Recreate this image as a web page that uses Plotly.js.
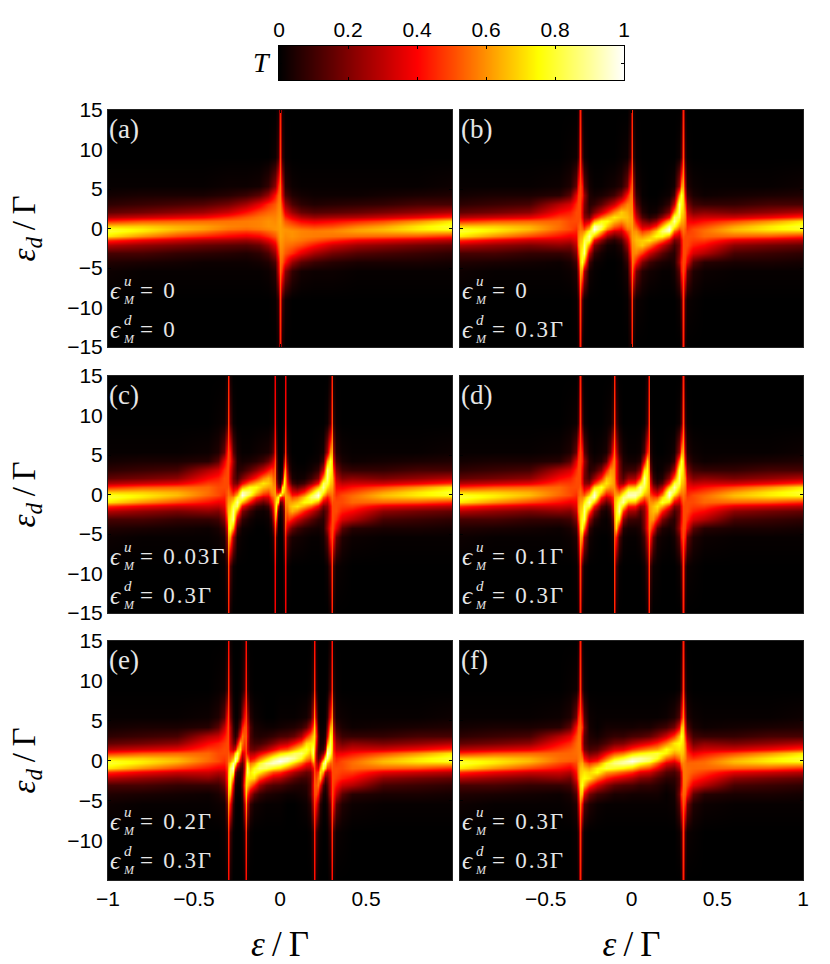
<!DOCTYPE html>
<html>
<head>
<meta charset="utf-8">
<script src="https://cdn.plot.ly/plotly-3.0.1.min.js"></script>
<style>html,body{margin:0;padding:0;background:#fff}</style>
</head>
<body>
<div id="plot" style="width:830px;height:964px"></div>
<script>
// energy levels of the rows, top of the panel first
let levels = [15,9,5.4,4.2,3.1,2.15,1.5,.9,.36,0,-.36,-.9,-1.5,-2.15,-3.1,-4.2,-5.4,-9,-15];

// every column below is T x 100, one value per level
// far left and far right of the band, the same in the panels (b)-(f)
let outerLX = [-1,-.8,-.6,-.42];
let outerL = [
  [0,0,1,3,7,15,28,46,68,78,80,72,46,28,11,5,2,0,0],
  [0,0,1,4,9,18,32,52,68,73,72,60,38,23,11,4,1,0,0],
  [0,0,1,4,11,22,36,54,64,66,62,50,32,19,8,3,1,0,0],
  [0,0,2,6,28,40,48,54,55,54,50,42,32,22,8,2,1,0,0]
];
let outerRX = [.42,.6,.8,1];
let outerR = [
  [0,0,1,2,8,22,32,42,50,54,55,54,48,40,28,6,2,0,0],
  [0,0,1,3,8,19,32,50,62,66,64,54,36,22,11,4,1,0,0],
  [0,0,1,4,11,23,38,60,72,73,68,52,32,18,9,4,1,0,0],
  [0,0,2,5,11,28,46,72,80,78,68,46,28,15,7,3,1,0,0]
];

// the line at -0.3 and +0.3 with its flare, panels (b)-(d)
let flareLX = [-.36,-.325,-.31,-.3];
let flareL = [
  [0,1,5,14,34,44,48,50,50,50,46,38,30,20,10,4,2,0,0],
  [0,2,16,36,46,50,50,50,48,46,44,40,36,30,20,10,5,1,0],
  [3,10,42,48,50,50,50,50,52,52,54,56,58,58,50,36,25,8,3],
  [45,48,50,50,50,50,50,52,55,56,58,62,65,68,70,70,64,50,45]
];
let flareRX = [.3,.31,.325,.36];
let flareR = [
  [45,50,64,70,70,68,65,62,58,56,55,52,50,50,50,50,50,48,45],
  [3,8,25,36,50,58,58,56,54,52,52,50,50,50,50,48,42,10,3],
  [0,1,5,10,20,30,36,40,44,46,48,50,50,50,46,36,16,2,0],
  [0,0,2,4,10,20,30,38,46,50,50,50,48,44,34,14,5,1,0]
];

// bright ridges in the outer gaps, panels (b) and (c)
let ridgeLX = [-.29,-.275,-.25,-.22,-.18,-.14,-.1];
let ridgeL = [
  [3,12,42,44,38,36,38,44,50,54,58,64,68,72,78,80,60,12,3],
  [0,2,14,24,20,18,22,30,42,50,60,72,82,88,88,62,26,2,0],
  [0,0,3,5,6,10,18,34,54,66,78,90,84,60,30,10,3,0,0],
  [0,0,1,3,8,20,38,62,92,98,90,66,40,20,8,2,1,0,0],
  [0,0,1,4,14,32,54,76,85,80,66,44,22,9,3,1,0,0,0],
  [0,0,2,6,22,44,64,76,68,58,44,24,10,3,1,0,0,0,0],
  [0,0,3,10,32,58,72,66,54,44,32,16,6,2,1,0,0,0,0]
];
let ridgeRX = [.1,.14,.18,.22,.25,.275,.29];
let ridgeR = [
  [0,0,0,0,1,2,6,16,32,44,54,66,72,58,32,10,3,0,0],
  [0,0,0,0,1,3,10,24,44,58,68,76,64,44,22,6,2,0,0],
  [0,0,0,1,3,9,22,44,66,80,85,76,54,32,14,4,1,0,0],
  [0,0,1,2,8,20,40,66,90,98,92,62,38,20,8,3,1,0,0],
  [0,0,3,10,30,60,84,90,78,66,54,34,18,10,6,5,3,0,0],
  [0,2,26,62,88,88,82,72,60,50,42,30,22,18,20,24,14,2,0],
  [3,12,60,80,78,72,68,64,58,54,50,44,38,36,38,44,42,12,3]
];

// panel (a)
let aMidX = [-.3,-.2,-.12,-.07,-.03,-.01,0,.01,.03,.07,.12,.2,.3];
let aMid = [
  [0,0,2,6,18,32,46,56,58,56,50,40,26,14,6,2,1,0,0],
  [0,0,2,9,26,42,52,57,57,54,48,37,24,13,5,2,1,0,0],
  [0,0,3,14,36,50,56,58,58,56,50,40,28,16,7,3,1,0,0],
  [0,0,8,24,46,54,58,60,60,58,54,46,36,24,12,5,2,0,0],
  [0,2,22,42,52,56,58,59,60,60,57,52,45,36,24,12,6,1,0],
  [3,10,45,53,57,59,60,61,61,61,60,58,56,52,45,34,30,8,3],
  [45,48,55,56,58,60,61,62,62,62,62,62,61,60,58,56,55,48,45],
  [3,8,30,34,45,52,56,58,60,61,61,61,60,59,57,53,45,10,3],
  [0,1,6,12,24,36,45,52,57,60,60,59,58,56,52,42,22,2,0],
  [0,0,2,5,12,24,36,46,54,58,60,60,58,54,46,24,8,0,0],
  [0,0,1,3,7,16,28,40,50,56,58,58,56,50,36,14,3,0,0],
  [0,0,1,2,5,13,24,37,48,54,57,57,52,42,26,9,2,0,0],
  [0,0,1,2,6,14,26,40,50,56,58,56,46,32,18,6,2,0,0]
];
let aOuterLX = [-1,-.8,-.6,-.45];
let aOuterL = [
  outerL[0], outerL[1], outerL[2],
  [0,0,1,4,13,25,39,55,62,62,57,45,28,16,7,2,1,0,0]
];
let aOuterRX = [.45,.6,.8,1];
let aOuterR = [
  [0,0,1,2,7,16,28,45,57,62,62,55,39,25,13,4,1,0,0],
  outerR[1], outerR[2], outerR[3]
];

// panel (b), the line at zero
let bMidX = [-.06,-.025,-.008,0,.008,.025,.06];
let bMid = [
  [0,1,6,20,48,68,68,60,48,40,32,22,12,6,3,1,1,0,0],
  [0,2,18,42,58,64,66,64,60,56,50,40,32,24,14,8,4,1,0],
  [3,10,44,54,58,60,62,62,60,58,56,54,50,46,40,30,26,8,3],
  [45,48,54,56,58,60,62,62,62,62,62,62,62,60,58,56,54,48,45],
  [3,8,26,30,40,46,50,54,56,58,60,62,62,60,58,54,44,10,3],
  [0,1,4,8,14,24,32,40,50,56,60,64,66,64,58,42,18,2,0],
  [0,0,1,1,3,6,12,22,32,40,48,60,68,68,48,20,6,1,0]
];

// panel (c), the close pair at +-0.03
let cMidX = [-.07,-.05,-.04,-.03,-.022,-.012,0,.012,.022,.03,.04,.05,.07];
let cMid = [
  [0,0,4,16,42,64,68,62,50,42,34,22,10,4,2,1,0,0,0],
  [0,1,8,24,48,60,64,62,58,54,48,38,26,16,8,4,2,0,0],
  [0,2,14,32,46,54,58,60,60,58,54,48,42,36,26,14,6,1,0],
  [38,40,44,50,54,56,58,60,62,62,62,64,66,66,62,52,46,40,38],
  [2,6,16,20,20,22,28,36,46,56,66,74,76,72,50,28,10,3,1],
  [0,0,1,3,5,8,12,20,40,62,78,72,36,14,5,2,1,0,0],
  [0,0,0,0,1,3,6,16,50,85,50,16,6,3,1,0,0,0,0],
  [0,0,1,2,5,14,36,72,78,62,40,20,12,8,5,3,1,0,0],
  [1,3,10,28,50,72,76,74,66,56,46,36,28,22,20,20,16,6,2],
  [38,40,46,52,62,66,66,64,62,62,62,60,58,56,54,50,44,40,38],
  [0,1,6,14,26,36,42,48,54,58,60,60,58,54,46,32,14,2,0],
  [0,0,2,4,8,16,26,38,48,54,58,62,64,60,48,24,8,1,0],
  [0,0,0,1,2,4,10,22,34,42,50,62,68,64,42,16,4,0,0]
];

// panel (d), lines at +-0.1
let dMidX = [-.29,-.275,-.25,-.22,-.18,-.15,-.125,-.11,-.1,-.09,-.075,-.05,-.02,.02,.05,.075,.09,.1,.11,.125,.15,.18,.22,.25,.275,.29];
let dMid = [
  [3,12,42,44,38,36,38,44,50,54,58,64,68,72,78,80,60,12,3],
  [0,2,14,24,20,18,22,32,44,52,62,74,84,88,84,58,24,2,0],
  [0,0,3,6,6,11,20,38,58,70,82,92,80,54,26,8,3,0,0],
  [0,0,1,3,9,24,44,70,90,96,94,68,42,22,8,2,1,0,0],
  [0,0,2,5,20,44,64,80,70,58,46,28,13,5,2,1,0,0,0],
  [0,1,4,14,44,66,72,66,50,40,30,16,7,3,1,1,0,0,0],
  [0,2,16,40,60,66,66,60,50,44,36,24,14,8,4,2,1,0,0],
  [3,10,42,54,60,62,62,60,54,50,46,42,36,30,18,10,5,1,0],
  [45,48,54,56,58,60,60,60,60,60,62,64,64,62,58,54,50,48,45],
  [3,10,30,40,40,40,44,50,58,62,66,70,72,74,76,70,42,10,3],
  [0,2,10,18,20,22,26,38,54,64,72,82,88,90,70,36,12,1,0],
  [0,0,3,5,8,13,24,46,68,80,88,90,72,48,22,6,2,0,0],
  [0,0,1,3,9,24,42,66,88,93,90,68,44,26,10,3,1,0,0],
  [0,0,1,3,10,26,44,68,90,93,88,66,42,24,9,3,1,0,0],
  [0,0,2,6,22,48,72,90,88,80,68,46,24,13,8,5,3,0,0],
  [0,1,12,36,70,90,88,82,72,64,54,38,26,22,20,18,10,2,0],
  [3,10,42,70,76,74,72,70,66,62,58,50,44,40,40,40,30,10,3],
  [45,48,50,54,58,62,64,64,62,60,60,60,60,60,58,56,54,48,45],
  [0,1,5,10,18,30,36,42,46,50,54,60,62,62,60,54,42,10,3],
  [0,0,1,2,4,8,14,24,36,44,50,60,66,66,60,40,16,2,0],
  [0,0,0,1,1,3,7,16,30,40,50,66,72,66,44,14,4,1,0],
  [0,0,0,1,2,5,13,28,46,58,70,80,64,44,20,5,2,0,0],
  [0,0,1,2,8,22,42,68,94,96,90,70,44,24,9,3,1,0,0],
  [0,0,3,8,26,54,80,92,82,70,58,38,20,11,6,6,3,0,0],
  [0,2,24,58,84,88,84,74,62,52,44,32,22,18,20,24,14,2,0],
  [3,12,60,80,78,72,68,64,58,54,50,44,38,36,38,44,42,12,3]
];

// panel (e), pairs at -0.3/-0.2 and 0.2/0.3
let eMidX = [-.36,-.325,-.31,-.3,-.29,-.275,-.26,-.25,-.235,-.22,-.21,-.2,-.19,-.175,-.15,-.12,-.08,-.04,0,.04,.08,.12,.15,.175,.19,.2,.21,.22,.235,.25,.26,.275,.29,.3,.31,.325,.36];
let eMid = [
  [0,1,5,14,32,44,48,50,50,50,46,38,28,18,9,4,2,0,0],
  [0,2,14,30,42,48,50,50,48,46,44,38,30,24,16,8,3,1,0],
  [3,10,40,46,48,50,50,50,50,50,50,48,46,44,38,28,18,6,2],
  [42,46,50,50,50,50,50,52,54,56,60,64,68,70,70,68,60,46,42],
  [2,8,18,28,30,32,36,46,54,60,70,84,86,84,78,62,40,10,3],
  [0,1,4,8,12,18,28,48,64,76,90,96,84,58,34,20,8,1,0],
  [0,0,1,3,6,14,34,70,90,92,80,46,22,10,5,2,1,0,0],
  [0,0,1,4,12,36,62,84,84,70,46,20,8,4,2,1,0,0,0],
  [0,1,6,18,40,66,72,62,44,32,20,10,5,3,2,1,0,0,0],
  [1,4,22,42,56,56,48,34,24,20,14,10,10,12,14,8,4,1,0],
  [3,10,38,50,52,48,44,38,34,30,28,28,32,40,46,40,24,6,2],
  [42,44,48,50,52,52,50,50,54,58,62,66,70,72,72,68,60,46,42],
  [3,8,28,36,38,34,34,40,56,66,74,84,84,74,68,50,30,8,3],
  [0,1,6,12,12,14,18,28,38,46,56,66,72,72,56,28,8,1,0],
  [0,0,2,4,6,10,16,28,42,52,62,76,80,70,44,14,3,0,0],
  [0,0,1,3,5,10,20,36,54,66,78,86,74,52,26,8,2,0,0],
  [0,0,0,2,6,14,27,46,68,80,90,84,62,40,16,5,1,0,0],
  [0,0,0,2,8,20,36,58,82,92,95,76,50,30,12,4,1,0,0],
  [0,0,1,3,11,27,46,70,92,99,92,70,46,27,11,3,1,0,0],
  [0,0,1,4,12,30,50,76,95,92,82,58,36,20,8,2,0,0,0],
  [0,0,1,5,16,40,62,84,90,80,68,46,27,14,6,2,0,0,0],
  [0,0,2,8,26,52,74,86,78,66,54,36,20,10,5,3,1,0,0],
  [0,0,3,14,44,70,80,76,62,52,42,28,16,10,6,4,2,0,0],
  [0,1,8,28,56,72,72,66,56,46,38,28,18,14,12,12,6,1,0],
  [3,8,30,50,68,74,84,84,74,66,56,40,34,34,38,36,28,8,3],
  [42,46,60,68,72,72,70,66,62,58,54,50,50,52,52,50,48,44,42],
  [2,6,24,40,46,40,32,28,28,30,34,38,44,48,52,50,38,10,3],
  [0,1,4,8,14,12,10,10,14,20,24,34,48,56,56,42,22,4,1],
  [0,0,0,1,2,3,5,10,20,32,44,62,72,66,40,18,6,1,0],
  [0,0,0,1,2,4,8,20,46,70,84,84,62,36,12,4,1,0,0],
  [0,0,1,2,5,10,22,46,80,92,90,70,34,14,6,3,1,0,0],
  [0,1,8,20,34,58,84,96,90,76,64,48,28,18,12,8,4,1,0],
  [3,10,40,62,78,84,86,84,70,60,54,46,36,32,30,28,18,8,2],
  [42,46,60,68,70,70,68,64,60,56,54,52,50,50,50,50,50,46,42],
  [2,6,18,28,38,44,46,48,50,50,50,50,50,50,48,46,40,10,3],
  [0,1,3,8,16,24,30,38,44,46,48,50,50,48,42,30,14,2,0],
  [0,0,2,4,9,18,28,38,46,50,50,50,48,44,32,14,5,1,0]
];

// panel (f), lines at +-0.3 only
let fMidX = [-.36,-.325,-.31,-.3,-.29,-.275,-.25,-.2,-.15,-.1,-.05,0,.05,.1,.15,.2,.25,.275,.29,.3,.31,.325,.36];
let fMid = [
  [0,1,5,15,36,46,52,54,54,52,46,38,28,18,10,4,2,0,0],
  [0,2,18,40,50,54,55,55,54,52,50,46,42,36,24,12,5,1,0],
  [3,10,44,52,55,56,56,56,56,56,58,58,58,56,48,36,26,8,3],
  [45,48,52,54,55,56,56,57,58,60,62,66,68,70,72,68,58,48,45],
  [3,10,38,46,36,34,38,48,56,60,64,68,70,74,78,66,38,10,3],
  [0,2,12,18,14,14,18,28,40,48,56,66,72,76,66,36,12,1,0],
  [0,0,2,3,5,7,11,18,30,38,48,62,70,72,48,18,5,0,0],
  [0,0,1,1,3,7,13,22,35,45,56,74,76,57,33,10,2,0,0],
  [0,0,1,3,6,12,23,38,54,66,78,81,62,44,22,7,1,0,0],
  [0,0,1,3,8,18,33,50,70,83,87,78,58,37,15,4,1,0,0],
  [0,0,1,3,8,20,36,56,78,90,91,74,52,32,12,4,1,0,0],
  [0,0,1,3,11,27,46,68,90,98,90,68,46,27,11,3,1,0,0],
  [0,0,1,4,12,32,52,74,91,90,78,56,36,20,8,3,1,0,0],
  [0,0,1,4,15,37,58,78,87,83,70,50,33,18,8,3,1,0,0],
  [0,0,1,7,22,44,62,81,78,66,54,38,23,12,6,3,1,0,0],
  [0,0,2,10,33,57,76,74,56,45,35,22,13,7,3,1,1,0,0],
  [0,0,5,18,48,72,70,62,48,38,30,18,11,7,5,3,2,0,0],
  [0,1,12,36,66,76,72,66,56,48,40,28,18,14,14,18,12,2,0],
  [3,10,38,66,78,74,70,68,64,60,56,48,38,34,36,46,38,10,3],
  [45,48,58,68,72,70,68,66,62,60,58,57,56,56,55,54,52,48,45],
  [3,8,26,36,48,56,58,58,58,56,56,56,56,56,55,52,44,10,3],
  [0,1,5,12,24,36,42,46,50,52,54,55,55,54,50,40,18,2,0],
  [0,0,2,4,10,18,28,38,46,52,54,54,52,46,36,15,5,1,0]
];

// panel letters and the two parameter labels
let panelNames = ["(a)","(b)","(c)","(d)","(e)","(f)"];
let upperValues = ["0","0","0.03Γ","0.1Γ","0.2Γ","0.3Γ"];
let lowerValues = ["0","0.3Γ","0.3Γ","0.3Γ","0.3Γ","0.3Γ"];

// colour bar
let barLevels = [0,.05,.1,.15,.2,.25,.3,.35,.4,.45,.5,.55,.6,.65,.7,.75,.8,.85,.9,.95,1];
let barTicks = [0,.2,.4,.6,.8,1];
let barTickText = ["0","0.2","0.4","0.6","0.8","1"];

let panelX = [
  [...aOuterLX,...aMidX,...aOuterRX],
  [...outerLX,...flareLX,...ridgeLX,...bMidX,...ridgeRX,...flareRX,...outerRX],
  [...outerLX,...flareLX,...ridgeLX,...cMidX,...ridgeRX,...flareRX,...outerRX],
  [...outerLX,...flareLX,...dMidX,...flareRX,...outerRX],
  [...outerLX,...eMidX,...outerRX],
  [...outerLX,...fMidX,...outerRX]
];
let panelCols = [
  [...aOuterL,...aMid,...aOuterR],
  [...outerL,...flareL,...ridgeL,...bMid,...ridgeR,...flareR,...outerR],
  [...outerL,...flareL,...ridgeL,...cMid,...ridgeR,...flareR,...outerR],
  [...outerL,...flareL,...dMid,...flareR,...outerR],
  [...outerL,...eMid,...outerR],
  [...outerL,...fMid,...outerR]
];

// same as matlab hot, red a little later
let hot = [
  [0,"rgb(0,0,0)"],
  [.4,"rgb(255,0,0)"],
  [.75,"rgb(255,255,0)"],
  [1,"rgb(255,255,255)"]
];

// pixel boxes of the panels
let W = 830, H = 964;
let colsPx = [[108,452],[460,803]];
let rowsPx = [[110,347],[376,613],[641,880]];

let yAsc = levels.slice().reverse();
let data = [];
let layout = {
  width: W, height: H,
  margin: {l:0,r:0,t:0,b:0},
  paper_bgcolor: "#fff",
  showlegend: false,
  font: {family:"'Liberation Sans', Arial, sans-serif", size:21, color:"#000"},
  annotations: []
};

let serif = "'Liberation Serif', 'DejaVu Serif', serif";
let labelColor = "#e6e6e6";

for (let i=0; i<6; i++) {
  let col = i%2, row = Math.floor(i/2);
  let n = i===0 ? "" : String(i+1);
  let box = colsPx[col], rbox = rowsPx[row];

  data.push({
    type: "heatmap",
    x: panelX[i],
    y: yAsc,
    z: panelCols[i].map(c => c.slice().reverse().map(v => v/100)),
    transpose: true,
    xaxis: "x"+n,
    yaxis: "y"+n,
    zmin: 0, zmax: 1,
    zsmooth: "best",
    colorscale: hot,
    hoverinfo: "skip",
    showscale: false
  });

  let xTicks = col===0 ? [-1,-.5,0,.5] : [-.5,0,.5,1];
  let yTicks = row===2 ? [15,10,5,0,-5,-10] : [15,10,5,0,-5,-10,-15];
  let xa = {
    domain: [box[0]/W, box[1]/W],
    anchor: "y"+n,
    range: [-1,1],
    tickmode: "array", tickvals: xTicks,
    showticklabels: row===2,
    ticks: "inside", ticklen: 3, tickcolor: "#000",
    showgrid: false, zeroline: false,
    showline: true, mirror: "ticks", linecolor: "#222", linewidth: 1
  };
  let ya = {
    domain: [1-rbox[1]/H, 1-rbox[0]/H],
    anchor: "x"+n,
    range: [-15,15],
    tickmode: "array", tickvals: yTicks,
    showticklabels: col===0,
    ticks: "inside", ticklen: 3, tickcolor: "#000",
    showgrid: false, zeroline: false,
    showline: true, mirror: "ticks", linecolor: "#222", linewidth: 1
  };
  if (row===2) xa.title = {text:"<i>ε</i>\u2009/\u2009Γ", font:{family:serif,size:35}, standoff:22};
  if (col===0) ya.title = {text:"<i>ε<sub>d</sub></i>\u2009/\u2009Γ", font:{family:serif,size:33}, standoff:21};
  layout["xaxis"+n] = xa;
  layout["yaxis"+n] = ya;

  // text inside the panel, offsets in pixels from the panel corner
  let w = box[1]-box[0], h = rbox[1]-rbox[0];
  let put = (text, dx, dy, size) => layout.annotations.push({
    text: text,
    xref: "x"+n+" domain", yref: "y"+n+" domain",
    x: dx/w, y: 1-dy/h,
    xanchor: "left", yanchor: "middle",
    showarrow: false,
    font: {family:serif, size:size, color:labelColor},
    borderpad: 0
  });
  put(panelNames[i], 0, 19, 27);
  [[180,"u",upperValues[i]],[219,"d",lowerValues[i]]].forEach(l => {
    put("<i>ϵ</i>", 1, l[0], 25);
    put("<i>"+l[1]+"</i>", 15, l[0]-9, 15);
    put("<i>M</i>", 14, l[0]+10, 12);
    put("=\u2009 "+l[2].split("").join("\u200a"), 31, l[0], 23);
  });
}

// the colour bar is a small heatmap on its own axes, labels on top
data.push({
  type: "heatmap",
  x: barLevels,
  y: [0,1],
  z: [barLevels, barLevels],
  xaxis: "x7",
  yaxis: "y7",
  zmin: 0, zmax: 1,
  zsmooth: "best",
  colorscale: hot,
  hoverinfo: "skip",
  showscale: false
});
layout.xaxis7 = {
  domain: [279/W, 624/W],
  anchor: "y7",
  side: "top",
  range: [0,1],
  tickmode: "array", tickvals: barTicks, ticktext: barTickText,
  ticks: "inside", ticklen: 3, tickcolor: "#000",
  showgrid: false, zeroline: false,
  showline: true, mirror: "ticks", linecolor: "#000", linewidth: 1
};
layout.yaxis7 = {
  domain: [1-80/H, 1-46/H],
  anchor: "x7",
  range: [0,1],
  tickmode: "array", tickvals: [.5],
  showticklabels: false,
  ticks: "inside", ticklen: 3, tickcolor: "#000",
  showgrid: false, zeroline: false,
  showline: true, mirror: "ticks", linecolor: "#000", linewidth: 1
};

layout.annotations.push({
  text: "<i>T</i>",
  xref: "paper", yref: "paper",
  x: 273/W, y: 1-63/H,
  xanchor: "right", yanchor: "middle",
  showarrow: false,
  font: {family:serif, size:28, color:"#000"}
});

Plotly.newPlot("plot", data, layout, {displayModeBar:false, staticPlot:true});
</script>
</body>
</html>
